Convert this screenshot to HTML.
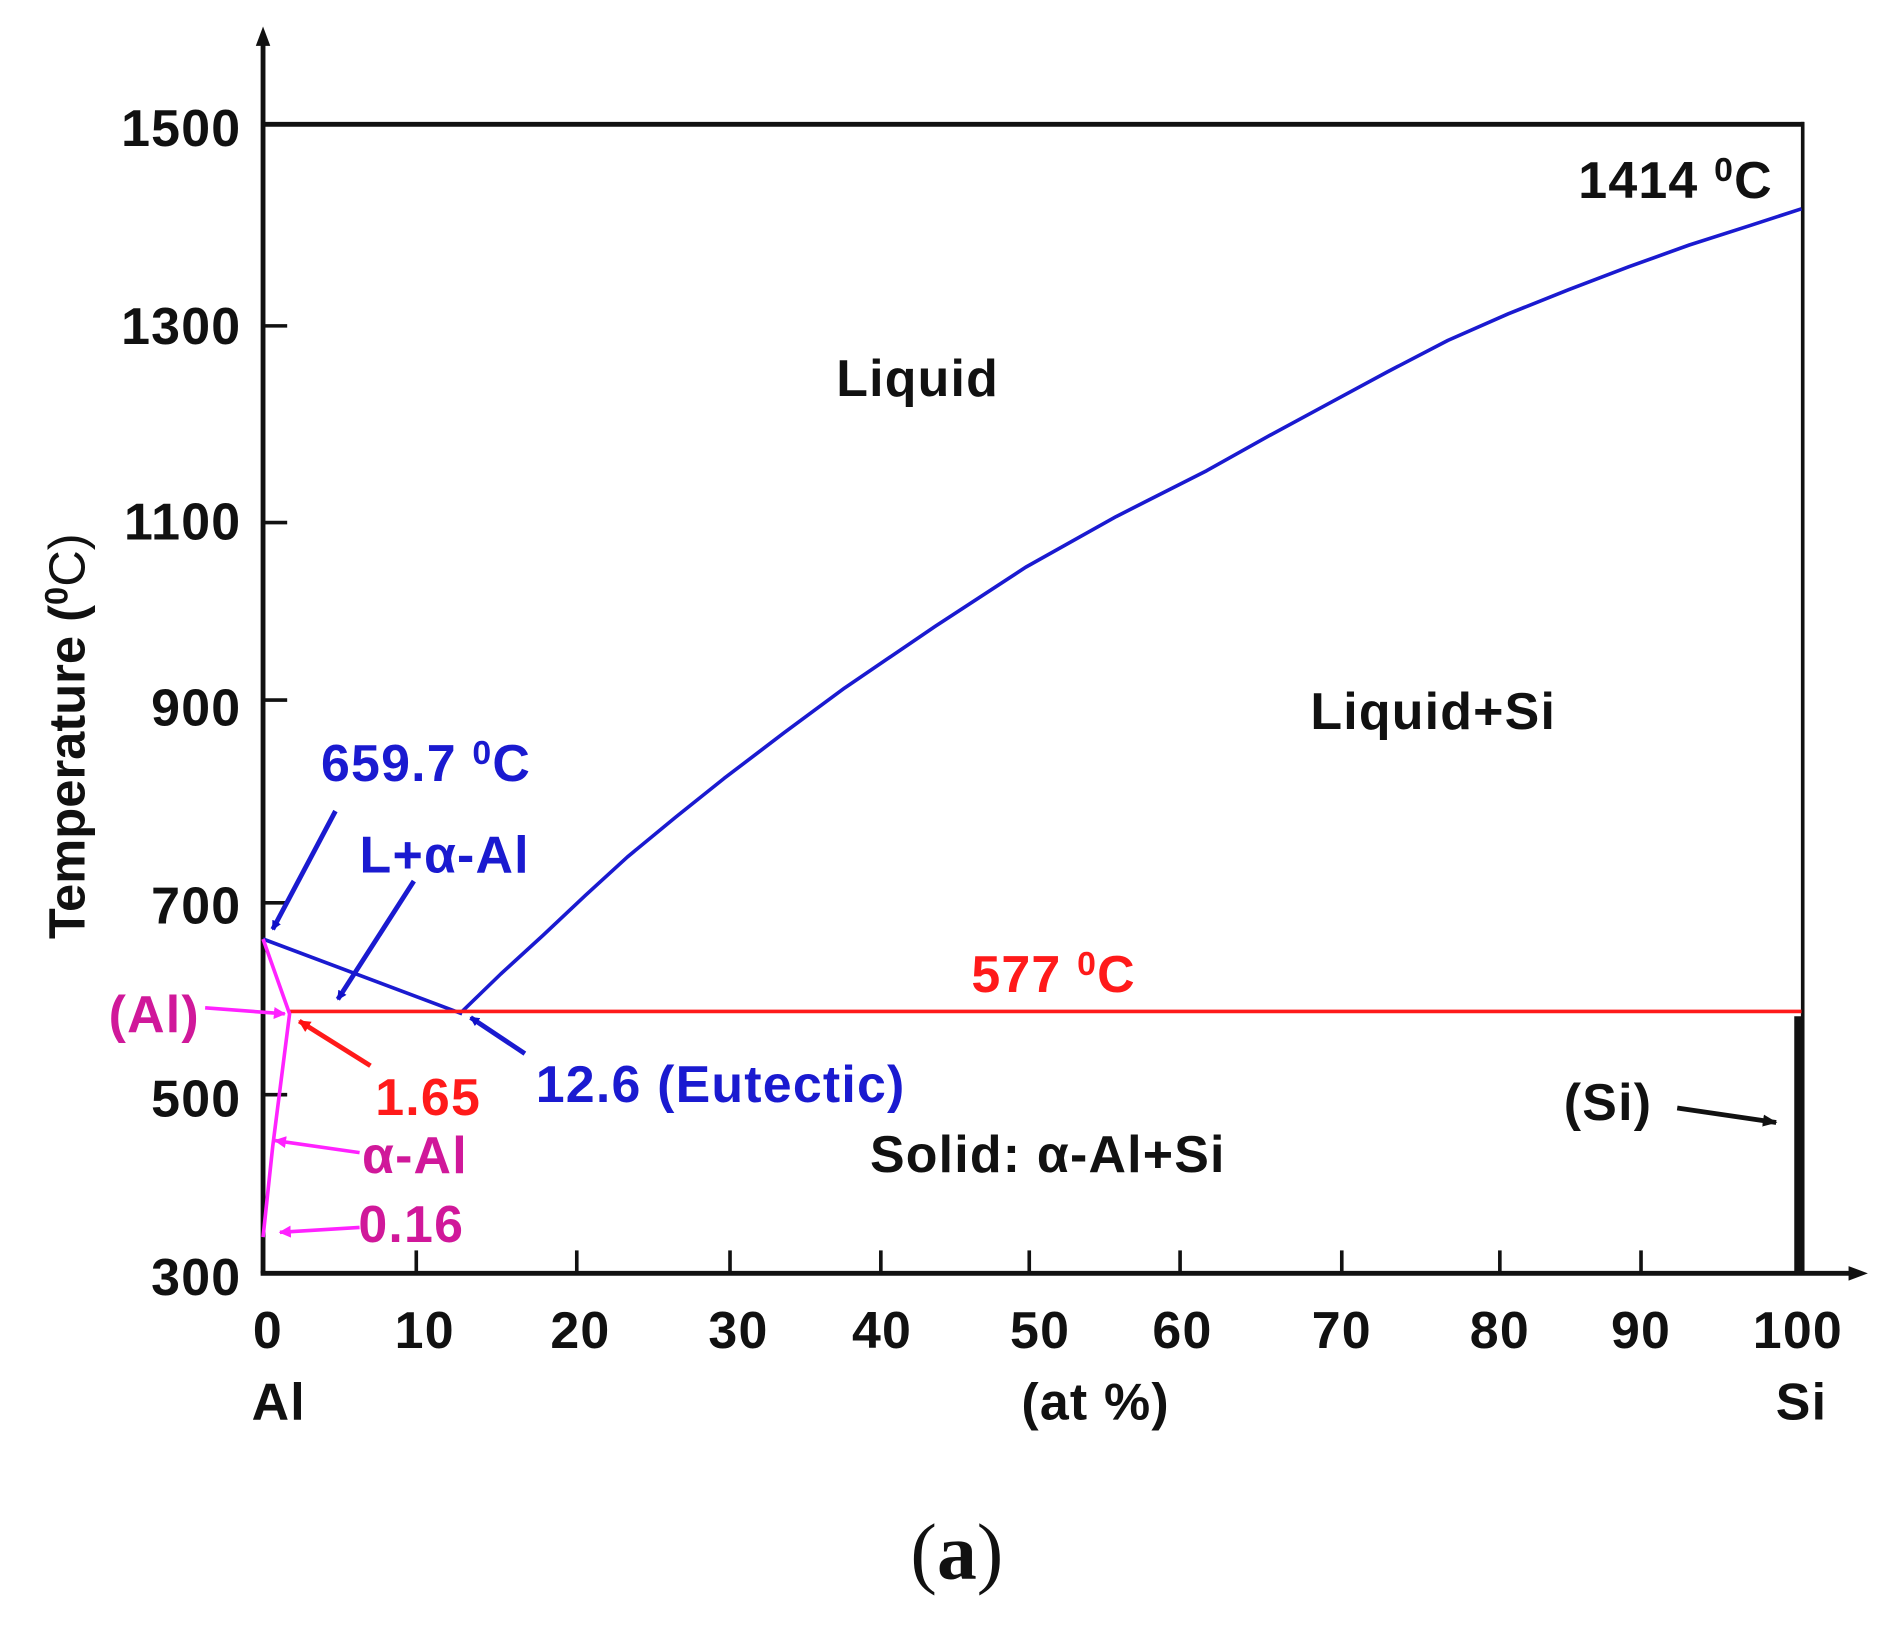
<!DOCTYPE html>
<html><head><meta charset="utf-8"><style>
html,body{margin:0;padding:0;background:#fff;width:1892px;height:1633px;overflow:hidden}
svg{display:block}
text{font-family:"Liberation Sans",Arial,sans-serif;font-weight:bold}
</style></head><body>
<svg width="1892" height="1633" viewBox="0 0 1568 1353" preserveAspectRatio="none" xmlns="http://www.w3.org/2000/svg">
<defs>
<marker id="ab" markerWidth="8" markerHeight="8" refX="7" refY="4" orient="auto" markerUnits="userSpaceOnUse"><path d="M0,0 L8,4 L0,8 z" fill="#1010c8"/></marker>
<marker id="ar" markerWidth="10" markerHeight="10" refX="9" refY="5" orient="auto" markerUnits="userSpaceOnUse"><path d="M0,0 L10,5 L0,10 z" fill="#ff1010"/></marker>
<marker id="am" markerWidth="10" markerHeight="10" refX="9" refY="5" orient="auto" markerUnits="userSpaceOnUse"><path d="M0,0 L10,5 L0,10 z" fill="#ff22ff"/></marker>
<marker id="ak" markerWidth="12" markerHeight="10" refX="11" refY="5" orient="auto" markerUnits="userSpaceOnUse"><path d="M0,0 L12,5 L0,10 z" fill="#111"/></marker>
</defs>
<g stroke="#111" fill="none">
<line x1="218" y1="1055" x2="218" y2="34" stroke-width="4"/>
<path d="M212,38 L218,22 L224,38 z" fill="#111" stroke="none"/>
<line x1="216" y1="1055" x2="1535" y2="1055" stroke-width="4"/>
<path d="M1532,1049 L1548,1055 L1532,1061 z" fill="#111" stroke="none"/>
<line x1="218" y1="103" x2="1495" y2="103" stroke-width="4"/>
<line x1="1494" y1="101" x2="1494" y2="1055" stroke-width="3"/>
<line x1="1490" y1="842" x2="1490" y2="1055" stroke-width="6"/>
<g stroke-width="3">
<line x1="218" y1="270" x2="238" y2="270"/><line x1="218" y1="433" x2="238" y2="433"/>
<line x1="218" y1="580" x2="238" y2="580"/><line x1="218" y1="748" x2="238" y2="748"/>
<line x1="218" y1="907" x2="238" y2="907"/>
<line x1="345" y1="1055" x2="345" y2="1036"/><line x1="478" y1="1055" x2="478" y2="1036"/>
<line x1="605" y1="1055" x2="605" y2="1036"/><line x1="730" y1="1055" x2="730" y2="1036"/>
<line x1="853" y1="1055" x2="853" y2="1036"/><line x1="978" y1="1055" x2="978" y2="1036"/>
<line x1="1112" y1="1055" x2="1112" y2="1036"/><line x1="1243" y1="1055" x2="1243" y2="1036"/>
<line x1="1360" y1="1055" x2="1360" y2="1036"/>
</g>
</g>
<g font-size="43" fill="#111" text-anchor="end" letter-spacing="1">
<text x="200" y="121">1500</text><text x="200" y="285">1300</text><text x="200" y="447">1100</text>
<text x="200" y="601">900</text><text x="200" y="765">700</text><text x="200" y="925">500</text><text x="200" y="1073">300</text>
</g>
<g font-size="43" fill="#111" text-anchor="middle" letter-spacing="1">
<text x="222" y="1117">0</text><text x="352" y="1117">10</text><text x="481" y="1117">20</text><text x="612" y="1117">30</text>
<text x="731" y="1117">40</text><text x="862" y="1117">50</text><text x="980" y="1117">60</text><text x="1112" y="1117">70</text>
<text x="1243" y="1117">80</text><text x="1360" y="1117">90</text><text x="1490" y="1117">100</text>
<text x="231" y="1176">Al</text><text x="908" y="1176">(at %)</text><text x="1493" y="1176">Si</text>
</g>
<text transform="translate(70,610) rotate(-90)" font-size="42" fill="#111" text-anchor="middle">Temperature (<tspan font-size="27" dy="-14">0</tspan><tspan dy="14" style="font-weight:normal">C)</tspan></text>
<polyline points="383,838 415,807 450,775 485,742 520,710 560,677 600,645 650,607 700,570 775,519 850,470 925,428 1000,390 1050,362 1100,335 1150,308 1200,282 1250,260 1300,240 1350,221 1400,203 1450,187 1493,173" stroke="#1a1ad0" stroke-width="3" fill="none" stroke-linejoin="round"/>
<line x1="218" y1="778" x2="383" y2="840" stroke="#1a1ad0" stroke-width="3"/>
<line x1="240" y1="838" x2="1493" y2="838" stroke="#ff1a1a" stroke-width="3"/>
<path d="M218,778 L240,840 L226,950 L218,1025" stroke="#ff22ff" stroke-width="3" fill="none"/>
<line x1="278" y1="672" x2="226" y2="770" stroke="#1a1ad0" stroke-width="4" marker-end="url(#ab)"/>
<line x1="343" y1="730" x2="280" y2="828" stroke="#1a1ad0" stroke-width="4" marker-end="url(#ab)"/>
<line x1="435" y1="873" x2="390" y2="843" stroke="#1a1ad0" stroke-width="4" marker-end="url(#ab)"/>
<line x1="307" y1="883" x2="248" y2="846" stroke="#ff1a1a" stroke-width="4" marker-end="url(#ar)"/>
<line x1="170" y1="835" x2="236" y2="840" stroke="#ff22ff" stroke-width="3" marker-end="url(#am)"/>
<line x1="298" y1="955" x2="228" y2="945" stroke="#ff22ff" stroke-width="3" marker-end="url(#am)"/>
<line x1="298" y1="1017" x2="232" y2="1021" stroke="#ff22ff" stroke-width="3" marker-end="url(#am)"/>
<line x1="1390" y1="918" x2="1472" y2="930" stroke="#111" stroke-width="4" marker-end="url(#ak)"/>
<g font-size="43" letter-spacing="1">
<text x="1308" y="164" fill="#111">1414 <tspan font-size="28" dy="-14">0</tspan><tspan dy="14">C</tspan></text>
<text x="693" y="328" fill="#111">Liquid</text>
<text x="1086" y="604" fill="#111">Liquid+Si</text>
<text x="266" y="647" fill="#1a1ad0">659.7 <tspan font-size="28" dy="-14">0</tspan><tspan dy="14">C</tspan></text>
<text x="298" y="723" fill="#1a1ad0">L+α-Al</text>
<text x="805" y="822" fill="#ff1a1a">577 <tspan font-size="28" dy="-14">0</tspan><tspan dy="14">C</tspan></text>
<text x="90" y="855" fill="#d0189a">(Al)</text>
<text x="311" y="924" fill="#ff1a1a">1.65</text>
<text x="444" y="913" fill="#1a1ad0">12.6 (Eutectic)</text>
<text x="1296" y="928" fill="#111">(Si)</text>
<text x="300" y="972" fill="#d0189a">α-Al</text>
<text x="721" y="971" fill="#111">Solid: α-Al+Si</text>
<text x="297" y="1029" fill="#d0189a">0.16</text>
</g>
<text x="793" y="1308" font-size="66" text-anchor="middle" fill="#111" style="font-family:'Liberation Serif',serif;font-weight:normal">(<tspan style="font-weight:bold">a</tspan>)</text>
</svg>
</body></html>
